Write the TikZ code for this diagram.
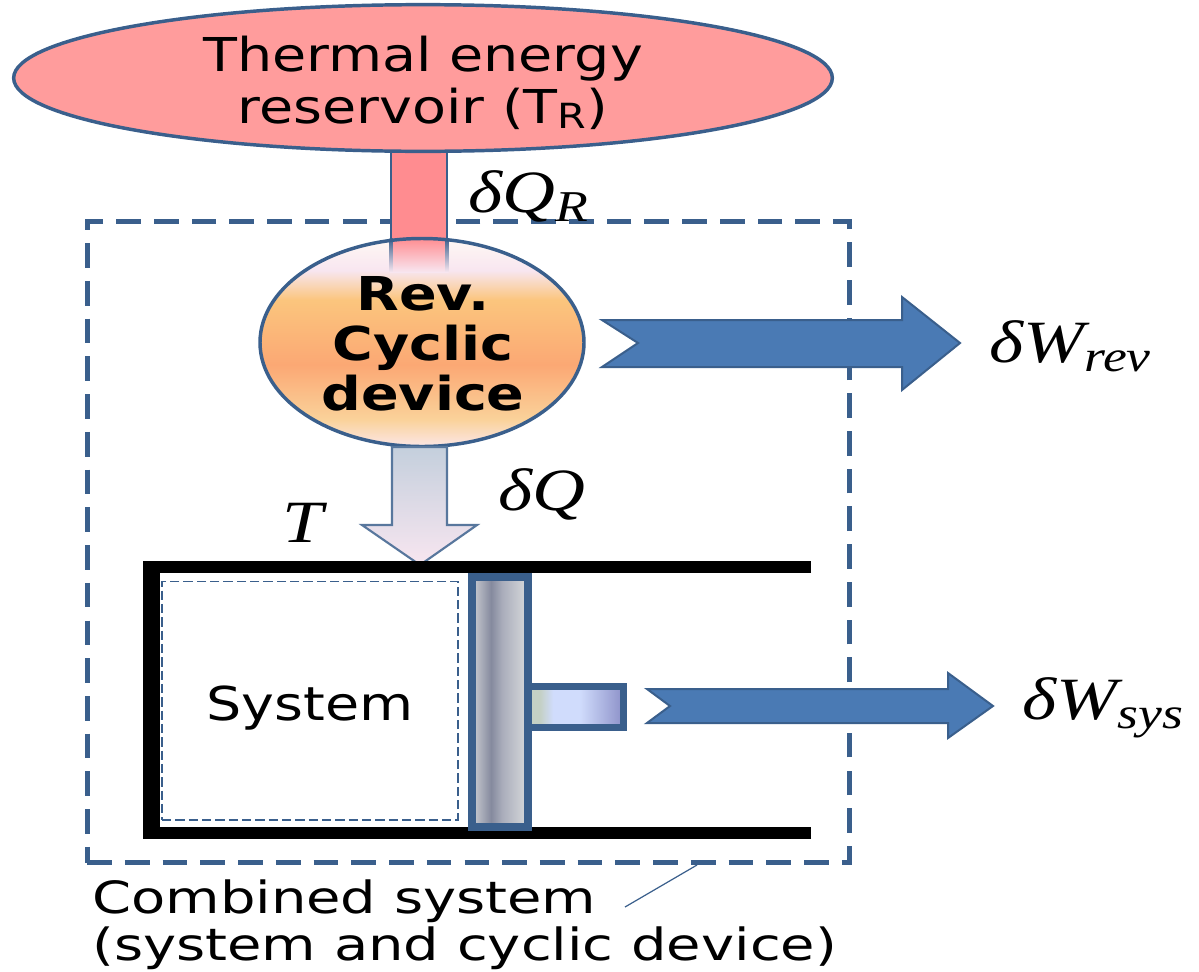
\documentclass[tikz,border=0pt]{standalone}
\usepackage{fontspec}
\setmainfont[FakeStretch=1.19]{DejaVu Sans}
\newfontfamily\captionfont[FakeStretch=1.26]{DejaVu Sans}
\newfontfamily\mathish[FakeStretch=1.22]{Liberation Serif}
\usetikzlibrary{calc,shapes.geometric}
\definecolor{edge}{HTML}{3A5F8C}
\definecolor{arrowblue}{HTML}{4A7AB4}
\definecolor{pinkfill}{HTML}{FF9C9C}
\definecolor{bandred}{HTML}{FF8C90}
\definecolor{devA}{HTML}{FBE6E6}
\definecolor{devB}{HTML}{FAD29A}
\definecolor{devC}{HTML}{FBA874}
\definecolor{devD}{HTML}{FBC57D}
\definecolor{devE}{HTML}{F8E6F0}
\definecolor{devF}{HTML}{FFF8F4}
\definecolor{pistA}{HTML}{CDCFD4}
\definecolor{pistB}{HTML}{858A9E}
\definecolor{pistC}{HTML}{D8DADC}
\definecolor{rodA}{HTML}{C4D0C4}
\definecolor{rodB}{HTML}{D0DCFC}
\definecolor{rodC}{HTML}{8C90C8}
\pgfdeclareverticalshading{devshade}{100bp}{
 color(0bp)=(devA);
 color(25bp)=(devA);
 color(31.5bp)=(devB);
 color(44.6bp)=(devC);
 color(60.2bp)=(devD);
 color(67.3bp)=(devE);
 color(75bp)=(devF);
 color(100bp)=(devF)}
\pgfdeclarehorizontalshading{pistshade}{100bp}{
 color(0bp)=(pistA);
 color(25bp)=(pistA);
 color(42bp)=(pistB);
 color(52bp)=(pistB!70!white);
 color(75bp)=(pistC);
 color(100bp)=(pistC)}
\pgfdeclarehorizontalshading{rodshade}{100bp}{
 color(0bp)=(rodA);
 color(31bp)=(rodA);
 color(38bp)=(rodB);
 color(52bp)=(rodB);
 color(75bp)=(rodC);
 color(100bp)=(rodC)}
\pgfdeclareverticalshading{bandfade}{100bp}{
 color(0bp)=(devE);
 color(25bp)=(devE);
 color(75bp)=(bandred);
 color(100bp)=(bandred)}
\pgfdeclareverticalshading{edgefade}{100bp}{
 color(0bp)=(devE);
 color(25bp)=(devE);
 color(75bp)=(edge);
 color(100bp)=(edge)}
\tikzset{
  lab/.style={font=\fontsize{35}{40}\selectfont,text=black,inner sep=0pt,align=center},
  mathlab/.style={font=\fontsize{45}{48}\selectfont\mathish\itshape,text=black,inner sep=0pt},
  bigarrow/.style={fill=arrowblue,draw=edge,line width=1.5pt,line join=miter},
  wall/.style={draw=black,line width=9pt,line cap=butt},
  devshape/.style={ellipse,minimum width=243pt,minimum height=156pt,inner sep=0pt}
}
\newcommand{\lowsub}[1]{\raisebox{-7pt}{\fontsize{33}{33}\selectfont #1}}
\begin{document}
\begin{tikzpicture}[x=0.75pt,y=-0.75pt]
\useasboundingbox (0,0) rectangle (1199,971);
\fill[white] (0,0) rectangle (1199,971);
% boundary
\node[draw=edge,dash pattern=on 18.5pt off 9.8pt,line width=3.8pt,minimum width=572pt,minimum height=481pt,inner sep=0pt] (bound) at (468.5,542) {};
% heat band
\fill[bandred] (392,148) rectangle (446,240);
% device
\node[devshape,shading=devshade,shading angle=0] (dev) at (422,342.5) {};
\shade[shading=bandfade] (392,238) rectangle (446,272);
\draw[edge,line width=2pt] (391,150) -- (391,240) (447,150) -- (447,240);
\shade[shading=edgefade] (389.5,238) rectangle (392.5,272);
\shade[shading=edgefade] (445.5,238) rectangle (448.5,272);
\node[devshape,draw=edge,line width=2.6pt] (devline) at (dev.center) {};
% reservoir
\node[ellipse,draw=edge,line width=2.6pt,fill=pinkfill,minimum width=614pt,minimum height=110pt,inner sep=0pt] (res) at (423,78) {};
\node[lab] (restext) at (423,83) {Thermal energy\\[-1pt]reservoir (T\raisebox{-4pt}{\fontsize{26}{26}\selectfont R})};
\node[font=\fontsize{35}{37.5}\selectfont\bfseries,align=center,inner sep=0pt] (devtext) at (423,344) {Rev.\\Cyclic\\device};
% heat arrow down
\path[top color=edge!30!white,bottom color=devE,draw=edge!85!white,line width=1.6pt,line join=miter]
 (392,447) -- (392,525) -- (362,525) -- (420,565) -- (477,525) -- (447,525) -- (447,447) -- cycle;
% system walls
\draw[wall] (811,567) -- (143,567);
\draw[wall] (811,833) -- (143,833);
\fill[black] (143,561) rectangle (160,838);
% system
\node[draw=edge,dash pattern=on 7pt off 3pt,line width=1pt,minimum width=222pt,minimum height=179pt,inner sep=0pt] (sys) at (310,700.5) {};
\node[lab] (systext) at (310,708) {System};
% piston
\node[draw=edge,line width=5pt,shading=rodshade,minimum width=71.5pt,minimum height=31pt,inner sep=0pt,anchor=west] (rod) at (525,707) {};
\node[draw=edge,line width=6pt,shading=pistshade,minimum width=42pt,minimum height=187pt,inner sep=0pt] (pist) at (500,702) {};
% work arrows
\path[bigarrow] (602,320) -- (902,320) -- (902,297) -- (960,343) -- (902,390) -- (902,367) -- (602,367) -- (638,343) -- cycle;
\path[bigarrow] (647,689) -- (948,689) -- (948,673) -- (993,706) -- (948,738) -- (948,723) -- (647,723) -- (670,706) -- cycle;
% labels
\node[mathlab] (qr) at (528,196) {δQ\lowsub{R}};
\node[mathlab] (wr) at (1070,346) {δW\lowsub{rev}};
\node[mathlab] (q) at (542,494) {δQ};
\node[mathlab] (t) at (303,523) {T};
\node[mathlab] (ws) at (1103,708) {δW\lowsub{sys}};
\node[font=\fontsize{33.3}{35.5}\selectfont\captionfont,align=left,inner sep=0pt,anchor=north west] (combo) at (92,879) {Combined system\\(system and cyclic device)};
\coordinate (leadA) at (625,907);
\coordinate (leadB) at (697,865);
\draw[edge,line width=0.9pt] (leadA) -- (leadB);
\end{tikzpicture}
\end{document}
